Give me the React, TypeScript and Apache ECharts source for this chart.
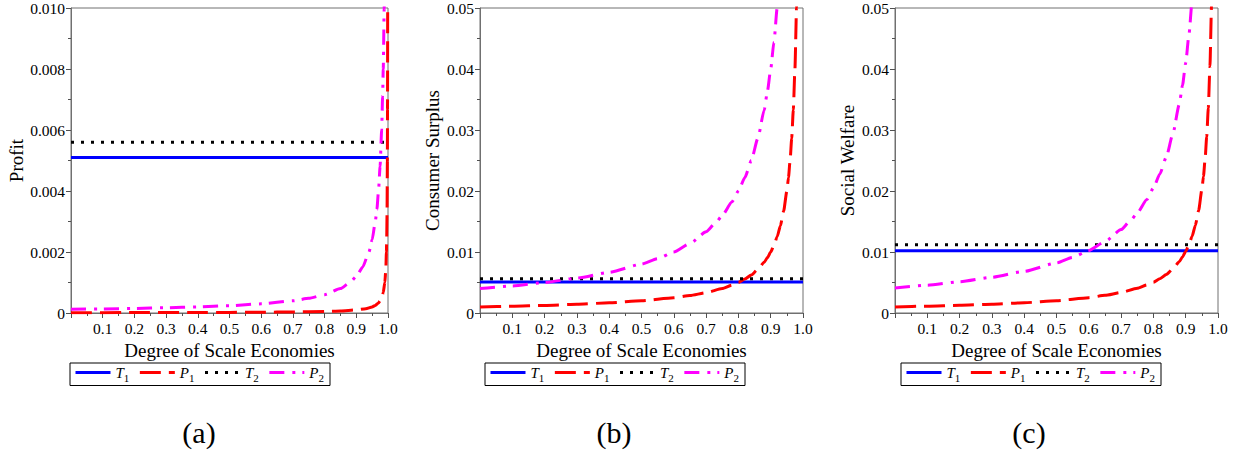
import React, { useEffect, useRef } from "react";
import * as echarts from "echarts";

// ---- data ----
// (a) Profit
const aT1 = [[0, 0.0051], [1, 0.0051]];
const aT2 = [[0, 0.0056], [1, 0.0056]];
const aP1 = [
  [0, 0.00001], [0.2, 0.000013], [0.4, 0.000017], [0.5, 0.00002], [0.6, 0.000025], [0.7, 0.000033],
  [0.8, 0.00005], [0.85, 0.000067], [0.9, 0.0001], [0.93, 0.00014], [0.95, 0.0002], [0.96, 0.00025],
  [0.97, 0.00033], [0.975, 0.0004], [0.98, 0.0005], [0.985, 0.00067], [0.99, 0.001], [0.993, 0.0014],
  [0.995, 0.002], [0.996, 0.0025], [0.997, 0.0033], [0.998, 0.005], [0.9985, 0.0067], [0.999, 0.01], [0.9995, 0.02],
];
const aP2 = [
  [0, 0.00012], [0.1, 0.000133], [0.2, 0.00015], [0.3, 0.000171], [0.4, 0.0002], [0.5, 0.00024],
  [0.6, 0.0003], [0.7, 0.0004], [0.75, 0.00048], [0.8, 0.0006], [0.85, 0.0008], [0.88, 0.001],
  [0.9, 0.0012], [0.92, 0.0015], [0.94, 0.002], [0.95, 0.0024], [0.96, 0.003], [0.965, 0.0034],
  [0.97, 0.004], [0.975, 0.0048], [0.98, 0.006], [0.983, 0.0071], [0.985, 0.008], [0.988, 0.01],
  [0.99, 0.012], [0.993, 0.017],
];

// (b) Consumer Surplus
const bT1 = [[0, 0.0051], [1, 0.0051]];
const bT2 = [[0, 0.0056], [1, 0.0056]];
const bP1 = [
  [0, 0.001], [0.1, 0.00111], [0.2, 0.00125], [0.3, 0.00143], [0.4, 0.00167], [0.5, 0.002],
  [0.6, 0.0025], [0.65, 0.00286], [0.7, 0.00333], [0.75, 0.004], [0.78, 0.00455], [0.8, 0.005],
  [0.82, 0.00556], [0.84, 0.00625], [0.86, 0.00714], [0.88, 0.00833], [0.89, 0.00909], [0.9, 0.01],
  [0.91, 0.0111], [0.92, 0.0125], [0.93, 0.0143], [0.94, 0.0167], [0.95, 0.02], [0.955, 0.0222],
  [0.96, 0.025], [0.965, 0.0286], [0.97, 0.0333], [0.975, 0.04], [0.98, 0.05], [0.985, 0.0667],
];
const bP2 = [
  [0, 0.004], [0.1, 0.00444], [0.2, 0.005], [0.3, 0.00571], [0.4, 0.00667], [0.5, 0.008],
  [0.55, 0.00889], [0.6, 0.01], [0.65, 0.0114], [0.7, 0.0133], [0.73, 0.0148], [0.75, 0.016],
  [0.78, 0.0182], [0.8, 0.02], [0.82, 0.0222], [0.84, 0.025], [0.86, 0.0286], [0.88, 0.0333],
  [0.89, 0.0364], [0.9, 0.04], [0.91, 0.0444], [0.92, 0.05], [0.93, 0.0571],
];

// (c) Social Welfare
const cT1 = [[0, 0.0102], [1, 0.0102]];
const cT2 = [[0, 0.0112], [1, 0.0112]];
const cP1 = [
  [0, 0.001], [0.1, 0.00112], [0.2, 0.00126], [0.3, 0.00144], [0.4, 0.00168], [0.5, 0.00202],
  [0.6, 0.00252], [0.65, 0.00289], [0.7, 0.00336], [0.75, 0.00404], [0.78, 0.00459], [0.8, 0.00505],
  [0.82, 0.00561], [0.84, 0.00631], [0.86, 0.00721], [0.88, 0.0084], [0.89, 0.00918], [0.9, 0.0101],
  [0.91, 0.0112], [0.92, 0.0126], [0.93, 0.0144], [0.94, 0.0168], [0.95, 0.0202], [0.955, 0.0224],
  [0.96, 0.0252], [0.965, 0.0289], [0.97, 0.0336], [0.975, 0.0404], [0.98, 0.0505], [0.985, 0.0673],
];
const cP2 = [
  [0, 0.0041], [0.1, 0.00456], [0.2, 0.00513], [0.3, 0.00586], [0.4, 0.00683], [0.5, 0.0082],
  [0.55, 0.00911], [0.6, 0.01025], [0.65, 0.0117], [0.7, 0.01367], [0.73, 0.0152], [0.75, 0.0164],
  [0.78, 0.0186], [0.8, 0.0205], [0.82, 0.0228], [0.84, 0.0256], [0.86, 0.0293], [0.88, 0.0342],
  [0.89, 0.0373], [0.9, 0.041], [0.91, 0.0456], [0.92, 0.0513], [0.93, 0.0586],
];

const yTitles = ["Profit", "Consumer Surplus", "Social Welfare"];
const yMax = [0.01, 0.05, 0.05];
const yStep = [0.002, 0.01, 0.01];
const yDigits = [3, 2, 2];
const captions = ["(a)", "(b)", "(c)"];
const xTitle = "Degree of Scale Economies";
const seriesNames = ["T1", "P1", "T2", "P2"];

const panels = [
  [aT1, aP1, aT2, aP2],
  [bT1, bP1, bT2, bP2],
  [cT1, cP1, cT2, cP2],
];

// ---- layout / styles ----
const FONT = "Liberation Serif";
const grids = [
  { left: 71, top: 7, width: 317, height: 306 },
  { left: 480, top: 7, width: 323, height: 306 },
  { left: 895, top: 7, width: 323, height: 306 },
];
const nameGaps = [45, 38, 38];
const legendLefts = [70, 485, 901];
const captionX = [199, 614, 1029];

const styles = [
  { color: "#0000ff", type: "solid" as any },
  { color: "#ff0000", type: [21, 8] as any },
  { color: "#000000", type: [3, 7] as any },
  { color: "#ff00ff", type: [15, 8, 3, 7] as any },
];

const tickRich = {
  t: { fontFamily: FONT, fontSize: 15.5, color: "#000" },
};

export default function App() {
  const ref = useRef<HTMLDivElement>(null);
  useEffect(() => {
    document.body.style.margin = "0";
    const chart = echarts.init(ref.current!, undefined, { renderer: "svg" });
    const series: any[] = [];
    panels.forEach((p, gi) => {
      p.forEach((d, si) => {
        series.push({
          name: seriesNames[si],
          type: "line",
          xAxisIndex: gi,
          yAxisIndex: gi,
          data: d,
          showSymbol: false,
          symbol: "none",
          smooth: si === 1 || si === 3 ? 0.2 : false,
          smoothMonotone: "x",
          clip: true,
          lineStyle: { color: styles[si].color, width: 3, type: styles[si].type, cap: "butt" },
          itemStyle: { color: styles[si].color },
          emphasis: { disabled: true },
          z: 2 + si,
        });
      });
    });
    chart.setOption({
      animation: false,
      textStyle: { fontFamily: FONT, fontSize: 15.5 },
      grid: grids.map((g) => ({
        ...g,
        show: true,
        borderColor: "#707070",
        borderWidth: 1,
        backgroundColor: "transparent",
      })),
      xAxis: grids.map((_, gi) => ({
        type: "value",
        gridIndex: gi,
        min: 0,
        max: 1,
        interval: 0.1,
        name: xTitle,
        nameLocation: "middle",
        nameGap: 27,
        nameTextStyle: { fontFamily: FONT, fontSize: 19, color: "#000" },
        axisLine: { show: true, onZero: false, lineStyle: { color: "#707070", width: 1 } },
        axisTick: { show: true, length: 5, lineStyle: { color: "#505050" } },
        minorTick: { show: true, splitNumber: 2, length: 3, lineStyle: { color: "#505050" } },
        splitLine: { show: false },
        axisLabel: {
          show: true,
          fontFamily: FONT,
          fontSize: 15.5,
          color: "#000",
          margin: 7,
          rich: tickRich,
          formatter: (v: number) => (v === 0 ? "" : `{t|${v.toFixed(1)}}`),
        },
      })),
      yAxis: grids.map((_, gi) => ({
        type: "value",
        gridIndex: gi,
        min: 0,
        max: yMax[gi],
        interval: yStep[gi],
        name: yTitles[gi],
        nameLocation: "middle",
        nameGap: nameGaps[gi],
        nameTextStyle: { fontFamily: FONT, fontSize: 19, color: "#000" },
        axisLine: { show: true, onZero: false, lineStyle: { color: "#707070", width: 1 } },
        axisTick: { show: true, length: 5, lineStyle: { color: "#505050" } },
        minorTick: { show: true, splitNumber: 2, length: 3, lineStyle: { color: "#505050" } },
        splitLine: { show: false },
        axisLabel: {
          show: true,
          fontFamily: FONT,
          fontSize: 15.5,
          color: "#000",
          margin: 6,
          rich: tickRich,
          formatter: (v: number) => `{t|${v === 0 ? "0" : v.toFixed(yDigits[gi])}}`,
        },
      })),
      legend: legendLefts.map((l) => ({
        left: l,
        top: 363,
        orient: "horizontal",
        data: seriesNames,
        itemWidth: 35,
        itemHeight: 14,
        itemGap: 9,
        itemTextGap: 6,
        padding: [2, 6, 2, 4],
        borderColor: "#000",
        borderWidth: 1,
        selectedMode: false,
        itemStyle: { opacity: 0 },
        lineStyle: { width: 3 },
        formatter: (n: string) => `{i|${n[0]}}{s|${n[1]}}`,
        textStyle: {
          fontFamily: FONT,
          fontSize: 15,
          color: "#000",
          rich: {
            i: { fontFamily: FONT, fontStyle: "italic", fontSize: 15, lineHeight: 22, color: "#000" },
            s: { fontFamily: FONT, fontSize: 11, lineHeight: 10, verticalAlign: "bottom", color: "#000" },
          },
        },
      })),
      graphic: captions.map((c, i) => ({
        type: "text",
        x: captionX[i],
        y: 432,
        style: {
          text: c,
          fontFamily: FONT,
          fontSize: 30,
          fill: "#000",
          align: "center",
          verticalAlign: "middle",
        },
      })),
      series,
    });
    return () => chart.dispose();
  }, []);
  return <div ref={ref} style={{ width: 1240, height: 450 }} />;
}
